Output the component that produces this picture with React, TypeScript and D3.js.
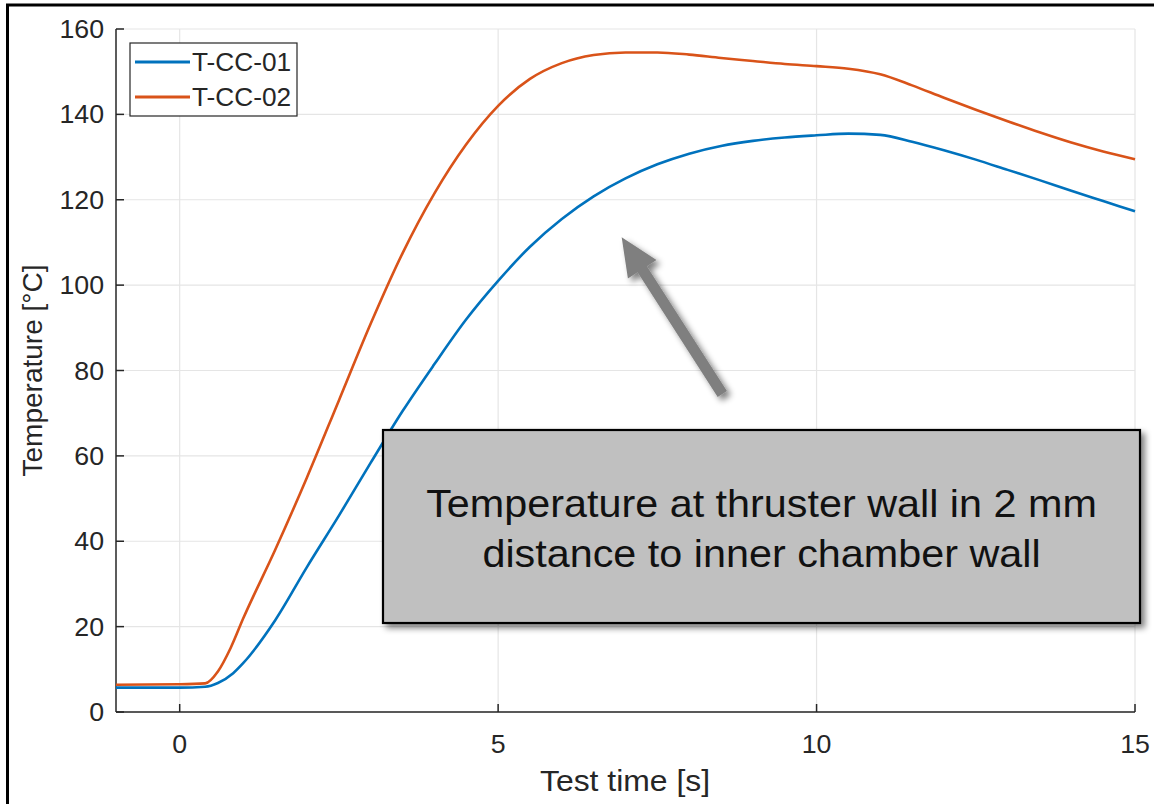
import React from "react";
import * as d3 from "d3";

// Test time [s] samples for the two thermocouples
const timeCC01 = [-1, 0, 0.4, 0.6, 0.84, 1.0, 1.5, 2.0, 2.5, 3.0, 3.5, 4.0, 4.5, 5.0, 5.5, 6.0, 6.5, 7.0, 7.5, 8.0, 8.5, 9.0, 9.5, 10.0, 10.5, 11.0, 11.5, 12.0, 12.5, 13.0, 13.5, 14.0, 14.5, 15.0];
const tempCC01 = [5.7, 5.7, 5.9, 6.8, 9.1, 11.5, 21.5, 34, 46, 58.4, 70.5, 81.5, 92, 101, 109, 115.5, 120.8, 125, 128.3, 130.8, 132.6, 133.8, 134.6, 135.1, 135.5, 135.2, 133.6, 131.6, 129.4, 127, 124.6, 122.1, 119.7, 117.3];

const timeCC02 = [-1, 0, 0.4, 0.6, 0.8, 1.0, 1.5, 2.0, 2.5, 3.0, 3.5, 4.0, 4.5, 5.0, 5.5, 6.0, 6.5, 7.0, 7.5, 8.0, 8.5, 9.0, 9.5, 10.0, 10.5, 11.0, 11.5, 12.0, 12.5, 13.0, 13.5, 14.0, 14.5, 15.0];
const tempCC02 = [6.4, 6.5, 6.7, 9.5, 15, 22, 38, 55, 73, 91, 107.5, 121.5, 133, 142, 148.3, 152, 153.9, 154.5, 154.5, 154, 153.2, 152.5, 151.8, 151.3, 150.7, 149.4, 146.8, 143.9, 141.1, 138.4, 135.8, 133.4, 131.3, 129.5];

const seriesNames = ["T-CC-01", "T-CC-02"];
const seriesColors = ["#0072BD", "#D95319"];

const xTicks = [0, 5, 10, 15];
const yTicks = [0, 20, 40, 60, 80, 100, 120, 140, 160];

const noteLines = ["Temperature at thruster wall in 2 mm", "distance to inner chamber wall"];

const W = 1154;
const H = 804;
const plot = { left: 116, right: 1135, top: 29, bottom: 712 };

// horizontally widened text placed at (x, y)
function WideText(props: {
  x: number;
  y: number;
  sx: number;
  size: number;
  anchor?: "start" | "middle" | "end";
  fill: string;
  dy?: string;
  children: React.ReactNode;
}) {
  return (
    <text
      transform={`translate(${props.x},${props.y}) scale(${props.sx},1)`}
      textAnchor={props.anchor ?? "start"}
      fontSize={props.size}
      fill={props.fill}
      dy={props.dy}
    >
      {props.children}
    </text>
  );
}

export default function App() {
  const x = d3.scaleLinear().domain([-1, 15]).range([plot.left, plot.right]);
  const y = d3.scaleLinear().domain([0, 160]).range([plot.bottom, plot.top]);

  const line = d3
    .line<[number, number]>()
    .x((d) => x(d[0]))
    .y((d) => y(d[1]))
    .curve(d3.curveMonotoneX);

  const series = [
    timeCC01.map((t, i) => [t, tempCC01[i]] as [number, number]),
    timeCC02.map((t, i) => [t, tempCC02[i]] as [number, number]),
  ];

  const font = "'Liberation Sans', Arial, sans-serif";
  const tickColor = "#262626";

  // annotation box
  const box = { x: 383, y: 430, w: 757, h: 193 };
  const boxCx = box.x + box.w / 2;

  // arrow from the box towards the blue curve
  const tail: [number, number] = [x(8.52), y(74.5)];
  const tip: [number, number] = [x(6.94), y(111.2)];
  const ang = Math.atan2(tip[1] - tail[1], tip[0] - tail[0]);
  const headLen = 38;
  const headHalf = 17;
  const shaftHalf = 5.5;
  const ux = Math.cos(ang);
  const uy = Math.sin(ang);
  const px = -uy;
  const py = ux;
  const base: [number, number] = [tip[0] - ux * headLen, tip[1] - uy * headLen];
  const arrowPts: [number, number][] = [
    [tail[0] + px * shaftHalf, tail[1] + py * shaftHalf],
    [base[0] + px * shaftHalf, base[1] + py * shaftHalf],
    [base[0] + px * headHalf, base[1] + py * headHalf],
    tip,
    [base[0] - px * headHalf, base[1] - py * headHalf],
    [base[0] - px * shaftHalf, base[1] - py * shaftHalf],
    [tail[0] - px * shaftHalf, tail[1] - py * shaftHalf],
  ];

  return (
    <svg
      width={W}
      height={H}
      style={{ position: "absolute", left: 0, top: 0, background: "#fff" }}
      fontFamily={font}
    >
      <defs>
        <filter id="shadow" x="-20%" y="-20%" width="140%" height="140%">
          <feGaussianBlur in="SourceAlpha" stdDeviation="3" />
          <feOffset dx="4" dy="4" result="ob" />
          <feComponentTransfer>
            <feFuncA type="linear" slope="0.5" />
          </feComponentTransfer>
          <feMerge>
            <feMergeNode />
            <feMergeNode in="SourceGraphic" />
          </feMerge>
        </filter>
        <clipPath id="plotClip">
          <rect x={plot.left} y={plot.top - 5} width={plot.right - plot.left + 2} height={plot.bottom - plot.top + 5} />
        </clipPath>
      </defs>

      <rect x={0} y={0} width={W} height={H} fill="#fff" />

      {/* grid */}
      <g stroke="#e5e5e5" strokeWidth={1.2}>
        {xTicks.map((t) => (
          <line key={"gx" + t} x1={x(t)} x2={x(t)} y1={plot.top} y2={plot.bottom} />
        ))}
        {yTicks.map((t) => (
          <line key={"gy" + t} x1={plot.left} x2={plot.right} y1={y(t)} y2={y(t)} />
        ))}
      </g>

      {/* axes */}
      <g stroke={tickColor} strokeWidth={1.5} fill="none">
        <line x1={plot.left} x2={plot.left} y1={plot.top} y2={plot.bottom} />
        <line x1={plot.left} x2={plot.right} y1={plot.bottom} y2={plot.bottom} />
        {xTicks.map((t) => (
          <line key={"tx" + t} x1={x(t)} x2={x(t)} y1={plot.bottom} y2={plot.bottom - 8} />
        ))}
        {yTicks.map((t) => (
          <line key={"ty" + t} x1={plot.left} x2={plot.left + 8} y1={y(t)} y2={y(t)} />
        ))}
      </g>

      {xTicks.map((t) => (
        <WideText key={"lx" + t} x={x(t)} y={753} sx={1.07} size={25} anchor="middle" fill={tickColor}>
          {t}
        </WideText>
      ))}
      {yTicks.map((t) => (
        <WideText key={"ly" + t} x={104} y={y(t)} dy="0.36em" sx={1.07} size={25} anchor="end" fill={tickColor}>
          {t}
        </WideText>
      ))}

      <WideText x={625} y={791} sx={1.1} size={29} anchor="middle" fill={tickColor}>
        Test time [s]
      </WideText>
      <text
        transform={`translate(42, ${(plot.top + plot.bottom) / 2}) rotate(-90)`}
        textAnchor="middle"
        fontSize={28}
        fill={tickColor}
      >
        Temperature [°C]
      </text>

      {/* data */}
      <g clipPath="url(#plotClip)" fill="none" strokeWidth={2.6} strokeLinejoin="round">
        {series.map((s, i) => (
          <path key={i} d={line(s) ?? ""} stroke={seriesColors[i]} />
        ))}
      </g>

      {/* legend */}
      <rect x={130} y={43} width={167} height={73} fill="#fff" stroke={tickColor} strokeWidth={1.2} />
      {seriesNames.map((n, i) => (
        <g key={n}>
          <line x1={135} x2={190} y1={62 + i * 35} y2={62 + i * 35} stroke={seriesColors[i]} strokeWidth={3} />
          <WideText x={192} y={62 + i * 35} dy="0.36em" sx={1.05} size={25} fill={tickColor}>
            {n}
          </WideText>
        </g>
      ))}

      {/* arrow */}
      <polygon
        points={arrowPts.map((p) => p.join(",")).join(" ")}
        fill="#7f7f7f"
        filter="url(#shadow)"
      />

      {/* annotation */}
      <g filter="url(#shadow)">
        <rect x={box.x} y={box.y} width={box.w} height={box.h} fill="#c0c0c0" stroke="#000" strokeWidth={2.2} />
      </g>
      {noteLines.map((l, i) => (
        <WideText key={i} x={boxCx} y={517 + i * 50} sx={1.06} size={39} anchor="middle" fill="#111">
          {l}
        </WideText>
      ))}

      {/* frame */}
      <line x1={7.5} x2={7.5} y1={4} y2={H} stroke="#000" strokeWidth={3} />
      <line x1={6} x2={W} y1={5} y2={5} stroke="#000" strokeWidth={3} />
    </svg>
  );
}
